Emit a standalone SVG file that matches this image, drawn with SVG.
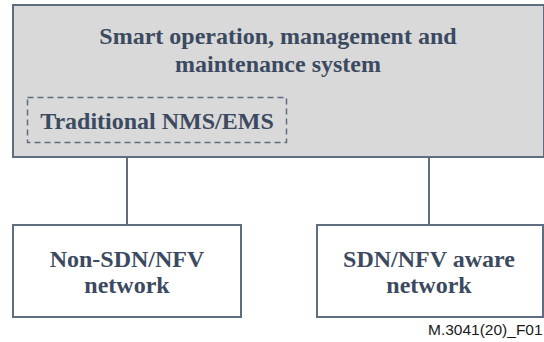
<svg xmlns="http://www.w3.org/2000/svg" width="544" height="342" viewBox="0 0 544 342">
<style>
.box{fill:#ffffff;stroke:#5f6d80;stroke-width:2}
.main{fill:#d9d9d9;stroke:#5f6d80;stroke-width:2}
.dash{fill:none;stroke:#5f6d80;stroke-width:1.5;stroke-dasharray:6,4}
.t{font-family:"Liberation Serif","Times New Roman",serif;font-weight:bold;font-size:24px;fill:#3b4a60;text-anchor:middle}
.conn{stroke:#5f6d80;stroke-width:2;fill:none}
.lbl{font-family:"Liberation Sans",Arial,sans-serif;fill:#1a1a1a;font-size:15.5px}
</style>
<rect x="0" y="0" width="544" height="342" fill="#ffffff"/>
<g id="smart-oms">
<rect class="main" x="13" y="5" width="531" height="152"/>
<text class="t" x="278" y="44">Smart operation, management and</text>
<text class="t" x="278" y="72">maintenance system</text>
</g>
<g id="traditional-nms">
<rect class="dash" x="27.5" y="97.5" width="259" height="45"/>
<text class="t" x="157" y="129">Traditional NMS/EMS</text>
</g>
<g id="connectors">
<line class="conn" x1="127" y1="157" x2="127" y2="225"/>
<line class="conn" x1="429" y1="157" x2="429" y2="225"/>
</g>
<g id="non-sdn">
<rect class="box" x="13" y="225" width="228" height="92"/>
<text class="t" x="127" y="267">Non-SDN/NFV</text>
<text class="t" x="127" y="293">network</text>
</g>
<g id="sdn-aware">
<rect class="box" x="317" y="225" width="226" height="92"/>
<text class="t" x="429" y="267">SDN/NFV aware</text>
<text class="t" x="429" y="293">network</text>
</g>
<text class="lbl" x="428" y="335">M.3041(20)_F01</text>
</svg>
